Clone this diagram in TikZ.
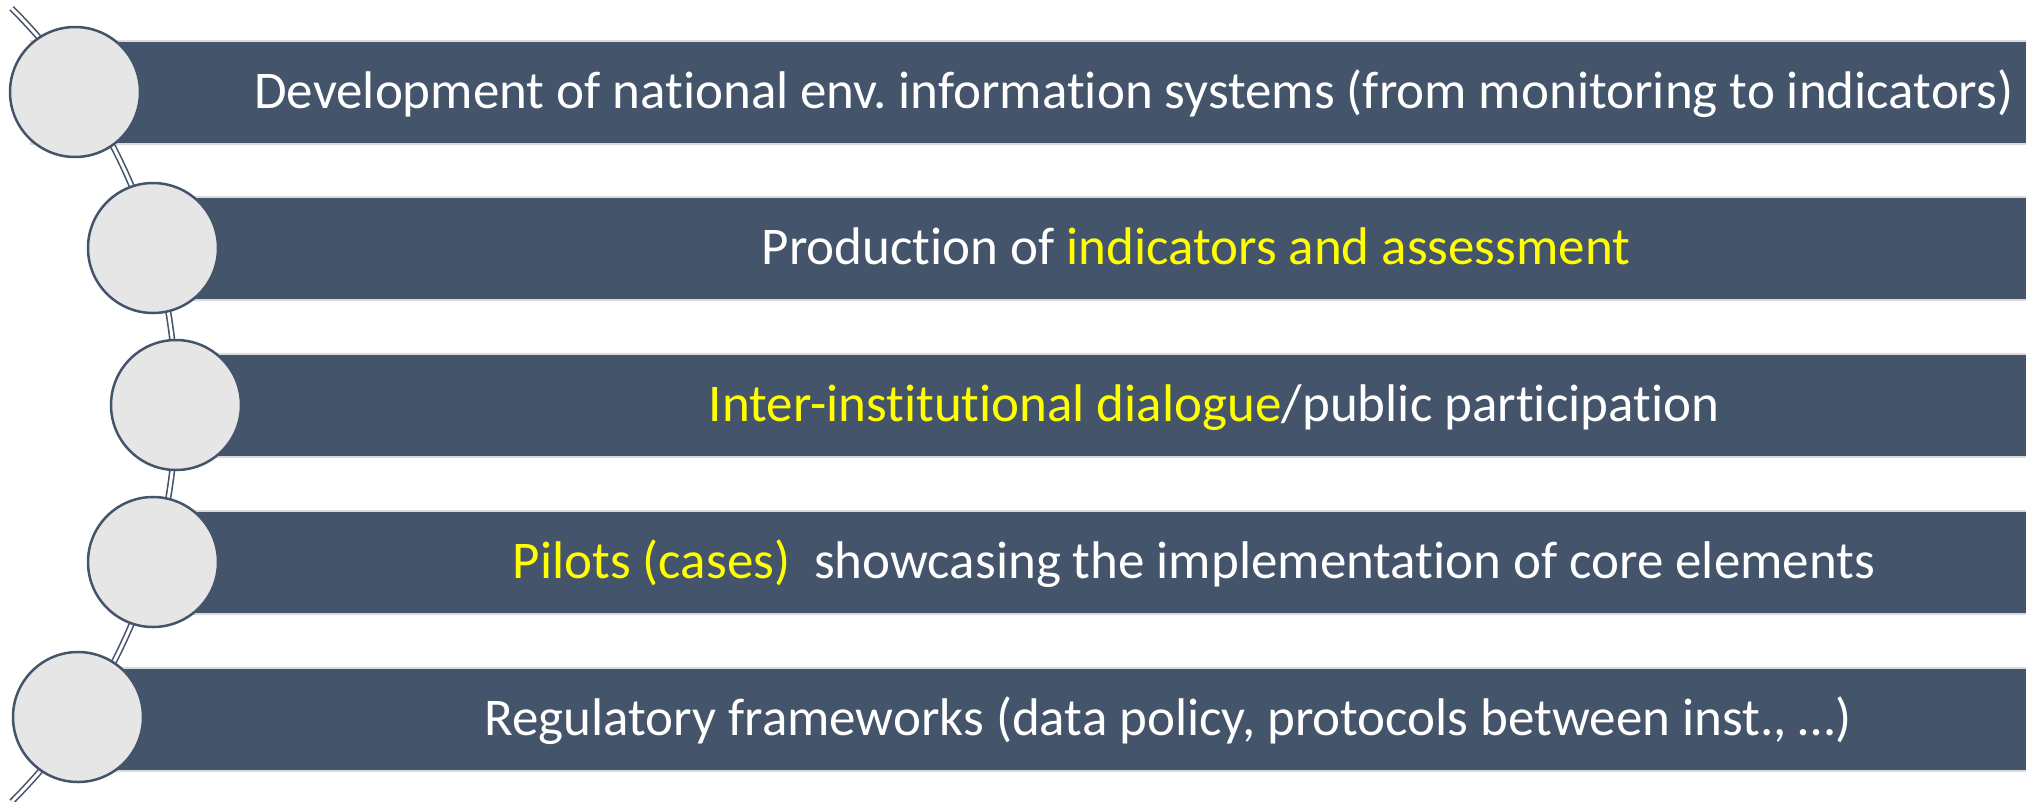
\documentclass[tikz,border=0pt]{standalone}
\usepackage{fontspec}
\setmainfont{Carlito}[Ligatures={NoCommon}]
\frenchspacing
\definecolor{barc}{HTML}{44546A}
\definecolor{circc}{HTML}{E6E6E6}
\definecolor{edgec}{HTML}{DADADA}
\definecolor{hl}{HTML}{FFFF00}
\begin{document}
\begin{tikzpicture}[x=1pt,y=-1pt,
  barbox/.style={fill=barc, draw=edgec, line width=1.5pt, inner sep=0pt, anchor=north west, minimum height=103pt},
  dot/.style={circle, fill=circc, draw=barc, line width=2.5pt, minimum size=130pt, inner sep=0pt},
  lbl/.style={text=white, font=\fontsize{53}{64}\selectfont, anchor=base, inner sep=0pt},
  chain/.style={draw=barc, line width=1.6pt, double=white, double distance=3pt}]
\useasboundingbox (0,0) rectangle (2026,801);
% connector arc
\draw[chain] (-385,405) ++(-45:561) arc[start angle=-45, end angle=45, radius=561];
% bars
\node[barbox, minimum width=2010pt] (b1) at (30,40) {};
\node[barbox, minimum width=1900pt] (b2) at (153,196) {};
\node[barbox, minimum width=1880pt] (b3) at (176,353) {};
\node[barbox, minimum width=1900pt] (b4) at (153,510) {};
\node[barbox, minimum width=1980pt] (b5) at (78,667) {};
% circles
\node[dot] (c1) at (75,92) {};
\node[dot] (c2) at (153,248) {};
\node[dot] (c3) at (176,405) {};
\node[dot] (c4) at (153,562) {};
\node[dot] (c5) at (78,717) {};
% labels
\node[lbl] (t1) at (1134,108.5) {Development of national env. information systems (from monitoring to indicators)};
\node[lbl] (t2) at (1196,264.5) {Production of \textcolor{hl}{indicators and assessment}};
\node[lbl] (t3) at (1214,421.5) {\textcolor{hl}{Inter-institutional dialogue}/public participation};
\node[lbl] (t4) at (1194,578.5) {\textcolor{hl}{Pilots (cases)}~ showcasing the implementation of core elements};
\node[lbl] (t5) at (1168,735.5) {Regulatory frameworks (data policy, protocols between inst., …)};
\end{tikzpicture}
\end{document}
